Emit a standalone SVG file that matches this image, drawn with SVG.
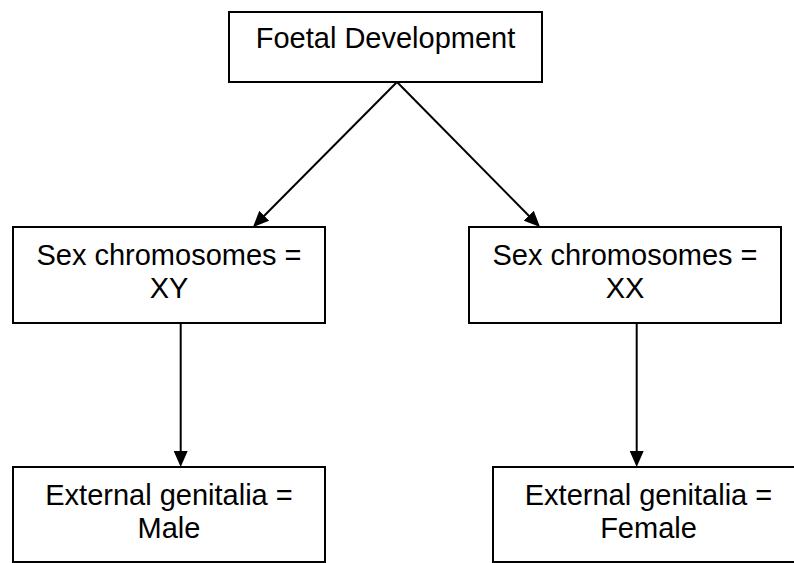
<svg xmlns="http://www.w3.org/2000/svg" width="794" height="563" viewBox="0 0 794 563">
<style>
.box{fill:#fff;stroke:#000;stroke-width:2}
.t{font-family:"Liberation Sans",Arial,sans-serif;font-size:29px;fill:#000;text-anchor:middle}
.c{stroke:#000;stroke-width:2;fill:none;marker-end:url(#ah)}
</style>
<defs>
<marker id="ah" markerUnits="userSpaceOnUse" markerWidth="16" markerHeight="14" refX="12" refY="7" orient="auto">
<path d="M0,0 L16,7 L0,14 z" fill="#000"/>
</marker>
</defs>
<rect width="794" height="563" fill="#fff"/>
<g id="connectors">
<line class="c" x1="397" y1="82" x2="255.8" y2="224.2"/>
<line class="c" x1="397" y1="82" x2="537.2" y2="224.2"/>
<line class="c" x1="180.7" y1="323" x2="180.7" y2="463"/>
<line class="c" x1="636.7" y1="323" x2="636.7" y2="463"/>
</g>
<g id="foetal">
<rect class="box" x="229" y="12" width="313" height="70"/>
<text class="t" x="385.5" y="48">Foetal Development</text>
</g>
<g id="xy">
<rect class="box" x="13" y="227" width="312" height="96"/>
<text class="t" x="169" y="265">Sex chromosomes =</text>
<text class="t" x="169" y="298">XY</text>
</g>
<g id="xx">
<rect class="box" x="469" y="227" width="312" height="96"/>
<text class="t" x="625" y="265">Sex chromosomes =</text>
<text class="t" x="625" y="298">XX</text>
</g>
<g id="male">
<rect class="box" x="13" y="467" width="312" height="95"/>
<text class="t" x="169" y="505">External genitalia =</text>
<text class="t" x="169" y="538">Male</text>
</g>
<g id="female">
<rect class="box" x="493" y="467" width="311" height="95"/>
<text class="t" x="648.5" y="505">External genitalia =</text>
<text class="t" x="648.5" y="538">Female</text>
</g>
</svg>
